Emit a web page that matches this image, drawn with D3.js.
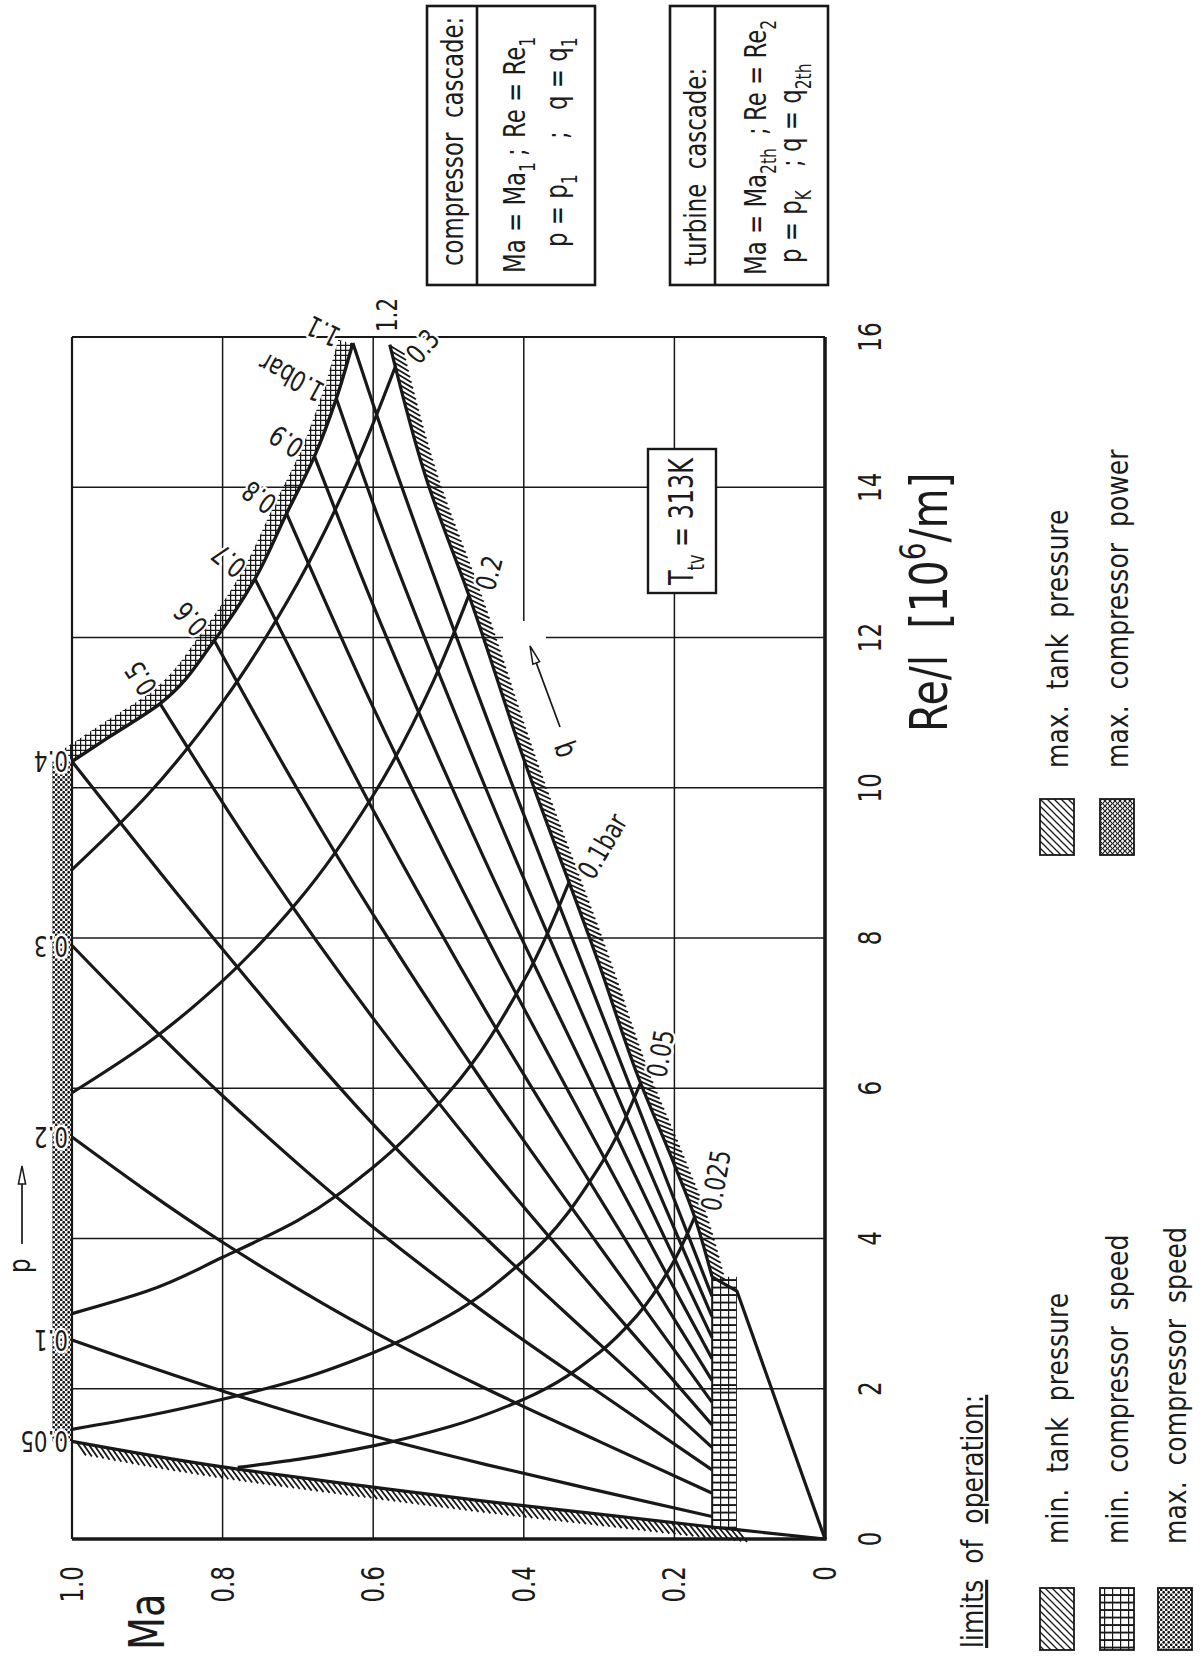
<!DOCTYPE html>
<html>
<head>
<meta charset="utf-8">
<script src="https://cdn.jsdelivr.net/npm/d3@7"></script>
<style>
  body { margin: 0; background: #fff; }
  svg { display: block; }
  text { font-family: 'DejaVu Sans Condensed', 'Liberation Sans Narrow', 'DejaVu Sans', sans-serif; font-stretch: condensed; fill: #1b1b1b; }
</style>
</head>
<body>
<div id="chart"></div>
<script>
// ---- data ----
const reTicks = [0, 2, 4, 6, 8, 10, 12, 14, 16];
const maTicks = [0, 0.2, 0.4, 0.6, 0.8, 1.0];
const maTickLabels = ['0', '0.2', '0.4', '0.6', '0.8', '1.0'];

// constant tank pressure lines, points are [Ma, Re/l]
const pLabels = ['0.05', '0.1', '0.2', '0.3', '0.4', '0.5', '0.6', '0.7', '0.8', '0.9', '1.0bar', '1.1', '1.2'];
const pLines = [
  [[0, 0], [0.117, 0.125], [0.15, 0.16], [0.3, 0.33], [0.45, 0.50], [0.6, 0.69], [0.8, 0.96], [1.0, 1.30]],
  [[0.15, 0.30], [0.3, 0.64], [0.45, 0.99], [0.6, 1.37], [0.8, 1.97], [1.0, 2.65]],
  [[0.15, 0.61], [0.3, 1.30], [0.45, 2.00], [0.6, 2.76], [0.8, 3.95], [1.0, 5.35]],
  [[0.15, 0.92], [0.3, 1.95], [0.45, 3.00], [0.6, 4.15], [0.8, 5.90], [1.0, 7.90]],
  [[0.15, 1.22], [0.3, 2.60], [0.45, 4.00], [0.6, 5.52], [0.8, 7.85], [1.0, 10.35]],
  [[0.15, 1.52], [0.3, 3.25], [0.45, 5.02], [0.6, 6.93], [0.75, 9.04], [0.883, 11.12]],
  [[0.15, 1.82], [0.3, 3.90], [0.45, 6.02], [0.6, 8.31], [0.7, 9.97], [0.811, 11.96]],
  [[0.15, 2.11], [0.3, 4.55], [0.45, 7.02], [0.6, 9.70], [0.757, 12.78]],
  [[0.15, 2.40], [0.3, 5.20], [0.45, 8.02], [0.6, 11.07], [0.715, 13.65]],
  [[0.15, 2.68], [0.3, 5.85], [0.45, 9.00], [0.6, 12.43], [0.678, 14.41]],
  [[0.15, 2.96], [0.3, 6.47], [0.45, 9.98], [0.6, 13.78], [0.649, 15.18]],
  [[0.15, 3.23], [0.3, 7.08], [0.45, 10.95], [0.6, 15.10], [0.627, 15.92]],
  [[0, 0], [0.117, 3.30], [0.15, 3.49], [0.175, 4.34], [0.2, 4.98], [0.25, 6.20], [0.3, 7.65], [0.4, 10.38], [0.47, 12.48], [0.53, 14.13], [0.578, 15.90]]
];

// constant dynamic pressure lines, [Ma, Re/l]
const qLabels = ['0.025', '0.05', '0.1bar', '0.2', '0.3'];
const qLines = [
  [[0.78, 0.952], [0.7, 1.06], [0.6, 1.24], [0.5, 1.49], [0.4, 1.86], [0.3, 2.48], [0.25, 2.97], [0.2, 3.71], [0.173, 4.29]],
  [[1.0, 1.46], [0.9, 1.64], [0.8, 1.86], [0.7, 2.12], [0.6, 2.48], [0.5, 2.97], [0.4, 3.71], [0.3, 4.95], [0.245, 6.07]],
  [[1.0, 3.00], [0.9, 3.30], [0.8, 3.75], [0.7, 4.24], [0.6, 4.95], [0.5, 5.94], [0.4, 7.43], [0.34, 8.74]],
  [[1.0, 5.94], [0.9, 6.60], [0.8, 7.43], [0.7, 8.49], [0.6, 9.90], [0.52, 11.42], [0.473, 12.56]],
  [[1.0, 8.91], [0.9, 9.90], [0.8, 11.14], [0.7, 12.73], [0.62, 14.37], [0.57, 15.62]]
];

// limit of max compressor power, [Ma, Re/l]
const maxPowerEdge = [[1.0, 10.35], [0.95, 10.68], [0.883, 11.12], [0.811, 11.96], [0.757, 12.78], [0.715, 13.65], [0.678, 14.41], [0.649, 15.18], [0.627, 15.92]];
// min compressor speed strip
const minSpeedMa = [0.117, 0.15];
const minSpeedRe = [0.125, 3.49];
// max compressor speed strip along Ma = 1
const maxSpeedRe = [1.30, 10.35];

const legendTitle = ['limits', ' of ', 'operation:'];
const legendLower = ['min.  tank  pressure', 'min.  compressor  speed', 'max.  compressor  speed'];
const legendUpper = ['max.  tank  pressure', 'max.  compressor  power'];
const boxTitles = ['compressor  cascade:', 'turbine  cascade:'];

// ---- layout ----
const W = 1204, H = 1656;
const INK = '#181818';
const svg = d3.select('#chart').append('svg')
  .attr('width', W).attr('height', H).attr('viewBox', `0 0 ${W} ${H}`);
svg.append('rect').attr('width', W).attr('height', H).attr('fill', '#fff');

// the chart is drawn upright in a 1656 x 1204 frame and turned a quarter to the left
const g = svg.append('g').attr('transform', `translate(0,${H}) rotate(-90)`);

const x = d3.scaleLinear().domain([0, 16]).range([117, 1319]);
const y = d3.scaleLinear().domain([0, 1]).range([825, 72]);

const lineSmooth = d3.line().x(d => x(d[1])).y(d => y(d[0])).curve(d3.curveMonotoneX);
const lineStraight = d3.line().x(d => x(d[1])).y(d => y(d[0]));

// narrow lettering like the stencil font of the original
function label(parent, u, v, size, rot, sx) {
  return parent.append('text')
    .attr('transform', `translate(${u},${v})${rot ? ` rotate(${rot})` : ''} scale(${sx || 0.82},1)`)
    .attr('font-size', size);
}

// patterns
const defs = svg.append('defs');
const grid = defs.append('pattern').attr('id', 'pat-grid')
  .attr('width', 7.5).attr('height', 8).attr('patternUnits', 'userSpaceOnUse');
grid.append('line').attr('x1', 0.9).attr('y1', 0).attr('x2', 0.9).attr('y2', 8).attr('stroke', INK).attr('stroke-width', 2);
grid.append('line').attr('x1', 0).attr('y1', 0.6).attr('x2', 7.5).attr('y2', 0.6).attr('stroke', INK).attr('stroke-width', 1.2);

const cross = defs.append('pattern').attr('id', 'pat-cross')
  .attr('width', 5).attr('height', 5).attr('patternUnits', 'userSpaceOnUse');
cross.append('line').attr('x1', 0.6).attr('y1', 0).attr('x2', 0.6).attr('y2', 5).attr('stroke', INK).attr('stroke-width', 1.3);
cross.append('line').attr('x1', 0).attr('y1', 0.6).attr('x2', 5).attr('y2', 0.6).attr('stroke', INK).attr('stroke-width', 1.3);

const dots = defs.append('pattern').attr('id', 'pat-dots')
  .attr('width', 5).attr('height', 5).attr('patternUnits', 'userSpaceOnUse');
dots.append('circle').attr('cx', 1.2).attr('cy', 1.2).attr('r', 1.4).attr('fill', INK);
dots.append('circle').attr('cx', 3.7).attr('cy', 3.7).attr('r', 1.4).attr('fill', INK);

const diag = defs.append('pattern').attr('id', 'pat-diag')
  .attr('width', 7).attr('height', 7).attr('patternUnits', 'userSpaceOnUse');
diag.append('path').attr('d', 'M-1,8L8,-1M-1,1L1,-1M6,8L8,6').attr('stroke', INK).attr('stroke-width', 1.3);

const diagX = defs.append('pattern').attr('id', 'pat-diagx')
  .attr('width', 5).attr('height', 5).attr('patternUnits', 'userSpaceOnUse');
diagX.append('path').attr('d', 'M-1,6L6,-1M-1,1L1,-1M4,6L6,4M-1,-1L6,6M-1,4L1,6M4,-1L6,1').attr('stroke', INK).attr('stroke-width', 1.1);

// grid
const gridG = g.append('g').attr('stroke', INK).attr('stroke-width', 1.5);
reTicks.slice(1, -1).forEach(r => gridG.append('line')
  .attr('x1', x(r)).attr('x2', x(r)).attr('y1', y(0)).attr('y2', y(1)));
maTicks.slice(1, -1).forEach(m => gridG.append('line')
  .attr('x1', x(0)).attr('x2', x(16)).attr('y1', y(m)).attr('y2', y(m)));

// clear patch around the q arrow
g.append('rect').attr('x', 900).attr('y', 503).attr('width', 135).attr('height', 43).attr('fill', '#fff');

// path sampling for hatches and bands
function samples(pts, curve, step) {
  const tmp = g.append('path')
    .attr('d', d3.line().x(d => x(d[1])).y(d => y(d[0])).curve(curve)(pts))
    .attr('fill', 'none');
  const node = tmp.node(), L = node.getTotalLength(), out = [];
  for (let s = 0; s <= L + 0.01; s += step) {
    const a = node.getPointAtLength(Math.min(s, L));
    const b = node.getPointAtLength(Math.min(L, s + 1.5));
    const c = node.getPointAtLength(Math.max(0, s - 1.5));
    const tx = b.x - c.x, ty = b.y - c.y, m = Math.hypot(tx, ty) || 1;
    out.push({ x: a.x, y: a.y, tx: tx / m, ty: ty / m });
  }
  tmp.remove();
  return out;
}

function hatch(sm, side, lean, len) {
  const hg = g.append('g').attr('stroke', INK).attr('stroke-width', 1.8);
  sm.forEach(s => {
    const nx = -s.ty * side, ny = s.tx * side;
    let dx = nx + lean * s.tx, dy = ny + lean * s.ty;
    const m = Math.hypot(dx, dy);
    hg.append('line').attr('x1', s.x).attr('y1', s.y)
      .attr('x2', s.x + dx / m * len).attr('y2', s.y + dy / m * len);
  });
}

function band(sm, side, w, fill) {
  const a = sm.map(s => [s.x, s.y]);
  const b = sm.map(s => [s.x - s.ty * side * w, s.y + s.tx * side * w]).reverse();
  g.append('path').attr('d', 'M' + a.concat(b).map(p => p.join(',')).join('L') + 'Z')
    .attr('fill', fill);
}

// max compressor speed: dotted strip outside Ma = 1
g.append('rect')
  .attr('x', x(maxSpeedRe[0])).attr('width', x(maxSpeedRe[1]) - x(maxSpeedRe[0]))
  .attr('y', 52).attr('height', y(1) - 52)
  .attr('fill', 'url(#pat-dots)');

// min compressor speed: gridded strip
g.append('rect')
  .attr('x', x(minSpeedRe[0])).attr('width', x(minSpeedRe[1]) - x(minSpeedRe[0]))
  .attr('y', y(minSpeedMa[1])).attr('height', y(minSpeedMa[0]) - y(minSpeedMa[1]))
  .attr('fill', 'url(#pat-grid)');
g.append('line')
  .attr('x1', x(minSpeedRe[0])).attr('x2', x(minSpeedRe[1]))
  .attr('y1', y(minSpeedMa[1])).attr('y2', y(minSpeedMa[1]))
  .attr('stroke', INK).attr('stroke-width', 1.8);

// max compressor power: cross-hatched band
const edgeSm = samples(maxPowerEdge, d3.curveMonotoneX, 2);
band(edgeSm, -1, 15, 'url(#pat-cross)');

// min / max tank pressure: single hatch
hatch(samples(pLines[0].slice(1), d3.curveMonotoneX, 6), -1, -1, 16);
hatch(samples(pLines[12].slice(2), d3.curveMonotoneX, 5.8), 1, -1, 17);

// curves
const curveG = g.append('g').attr('fill', 'none').attr('stroke', INK)
  .attr('stroke-width', 3.2).attr('stroke-linejoin', 'round');
pLines.forEach(pts => {
  if (pts[0][0] === 0) {
    curveG.append('path').attr('d', lineStraight(pts.slice(0, 3)));
    curveG.append('path').attr('d', lineSmooth(pts.slice(2)));
  } else {
    curveG.append('path').attr('d', lineSmooth(pts));
  }
});
qLines.forEach(pts => curveG.append('path').attr('d', lineSmooth(pts)));
curveG.append('path').attr('d', lineSmooth(maxPowerEdge)).attr('stroke-width', 3.4);

// frame
const fr = g.append('g').attr('stroke', INK);
fr.append('line').attr('x1', x(0)).attr('x2', x(0)).attr('y1', y(0) + 1.7).attr('y2', y(1)).attr('stroke-width', 3.6);
fr.append('line').attr('x1', x(0)).attr('x2', x(16)).attr('y1', y(0)).attr('y2', y(0)).attr('stroke-width', 3.6);
fr.append('line').attr('x1', x(0)).attr('x2', x(16)).attr('y1', y(1)).attr('y2', y(1)).attr('stroke-width', 2.2);
fr.append('line').attr('x1', x(16)).attr('x2', x(16)).attr('y1', y(0)).attr('y2', y(1)).attr('stroke-width', 2);

// rich text helper (sub / superscripts)
function rich(t, parts, size) {
  let shift = 0;
  parts.forEach(([s, k]) => {
    const want = k === 'sub' ? size * 0.32 : k === 'sup' ? -size * 0.42 : 0;
    const ts = t.append('tspan').attr('dy', want - shift).text(s);
    if (k) ts.attr('font-size', size * 0.68);
    shift = want;
  });
}
function halo(t) {
  return t.attr('stroke', '#fff').attr('stroke-width', 5).attr('paint-order', 'stroke')
    .attr('stroke-linejoin', 'round');
}

// tick labels
maTicks.forEach((m, i) => label(g, 90, y(m) + 11, 32, 0, 0.8)
  .attr('text-anchor', 'end').text(maTickLabels[i]));
reTicks.forEach(r => label(g, x(r), 881, 32, 0, 0.8)
  .attr('text-anchor', 'middle').text(r));

// axis titles
label(g, 6, 164, 50, 0, 0.85).text('Ma');
rich(label(g, 924, 947, 52, 0, 0.88), [['Re/l\u00a0\u00a0[10', null], ['6', 'sup'], ['/m]', null]], 52);

// p labels
const labG = g.append('g');
const edgePx = maxPowerEdge.map(d => [x(d[1]), y(d[0])]);
pLines.forEach((pts, i) => {
  const e = pts[pts.length - 1];
  let t;
  if (e[0] === 1) {
    t = label(labG, x(e[1]) + 10, y(1) - 4, 28, -90, 0.85);
  } else if (i === pLines.length - 1) {
    t = label(labG, x(16) + 5, y(e[0]) - 2, 28, 0, 0.85).attr('dominant-baseline', 'central');
  } else {
    const j = maxPowerEdge.findIndex(d => d[0] === e[0]);
    const a = edgePx[Math.max(0, j - 1)], b = edgePx[Math.min(edgePx.length - 1, j + 1)];
    let tx = b[0] - a[0], ty = b[1] - a[1];
    const m = Math.hypot(tx, ty);
    tx /= m; ty /= m;
    const nx = ty, ny = -tx;
    const ang = Math.atan2(ny, nx) * 180 / Math.PI + 10;
    t = label(labG, x(e[1]) + nx * 15, y(e[0]) + ny * 15, 28, ang, 0.85)
      .attr('dominant-baseline', 'central');
  }
  halo(t.text(pLabels[i]));
});

// q labels
const qAngles = [10, 10, 30, 15, 40];
qLines.forEach((pts, i) => {
  const e = pts[pts.length - 1];
  const t = label(labG, x(e[1]) + 6, y(e[0]) + 16, 28, qAngles[i], 0.85)
    .attr('dominant-baseline', 'central').text(qLabels[i]);
  halo(t);
});

// direction arrows
function arrow(x1, y1, x2, y2) {
  const a = Math.atan2(y2 - y1, x2 - x1), L = 18, w = 3.6;
  const bx = x2 - Math.cos(a) * L, by = y2 - Math.sin(a) * L;
  g.append('line').attr('x1', x1).attr('y1', y1).attr('x2', bx).attr('y2', by)
    .attr('stroke', INK).attr('stroke-width', 1.7);
  g.append('path').attr('d', `M${x2},${y2}L${bx - Math.sin(a) * w},${by + Math.cos(a) * w}L${bx + Math.sin(a) * w},${by - Math.cos(a) * w}Z`)
    .attr('fill', '#fff').attr('stroke', INK).attr('stroke-width', 1.5);
}
label(g, 383, 30, 30, 0, 0.85).text('p');
arrow(412, 22, 490, 22);
label(g, 902, 574, 30, -20, 0.85).text('q');
arrow(929, 560, 1010, 530);

// T box
g.append('rect').attr('x', 1063).attr('y', 648).attr('width', 144).attr('height', 68)
  .attr('fill', '#fff').attr('stroke', INK).attr('stroke-width', 2.4);
rich(label(g, 1071, 693, 34, 0, 0.78), [['T', null], ['tv', 'sub'], ['\u00a0=\u00a0313K', null]], 34);

// cascade boxes
const boxV = [[427, 595, 477, 463], [670, 828, 715, 706]];
boxV.forEach(([v0, v1, vd, vt], i) => {
  g.append('rect').attr('x', 1371).attr('y', v0).attr('width', 279).attr('height', v1 - v0)
    .attr('fill', '#fff').attr('stroke', INK).attr('stroke-width', 2.6);
  g.append('line').attr('x1', 1371).attr('x2', 1650).attr('y1', vd).attr('y2', vd)
    .attr('stroke', INK).attr('stroke-width', 2.6);
  label(g, 1390, vt, 31).text(boxTitles[i].replace(/ /g, '\u00a0'));
});
function row(u, v, parts) {
  rich(label(g, u, v, 31), parts, 31);
}
row(1383, 525, [['Ma\u00a0=\u00a0Ma', null], ['1', 'sub']]);
label(g, 1500, 525, 31).text(';');
row(1518, 525, [['Re\u00a0=\u00a0Re', null], ['1', 'sub']]);
row(1409, 567, [['p\u00a0=\u00a0p', null], ['1', 'sub']]);
label(g, 1517, 567, 31).text(';');
row(1546, 567, [['q\u00a0=\u00a0q', null], ['1', 'sub']]);
row(1381, 766, [['Ma\u00a0=\u00a0Ma', null], ['2th', 'sub']]);
label(g, 1521, 766, 31).text(';');
row(1535, 766, [['Re\u00a0=\u00a0Re', null], ['2', 'sub']]);
row(1393, 801, [['p\u00a0=\u00a0p', null], ['K', 'sub']]);
label(g, 1489, 801, 31).text(';');
row(1504, 801, [['q\u00a0=\u00a0q', null], ['2th', 'sub']]);

// legend
const lt = label(g, 8, 983, 31, 0, 0.9);
legendTitle.forEach((s, i) => {
  const ts = lt.append('tspan').text(s.replace(/ /g, '\u00a0\u00a0'));
  if (i !== 1) ts.attr('text-decoration', 'underline');
});
const lowerFills = ['url(#pat-diag)', 'url(#pat-grid)', 'url(#pat-dots)'];
const lowerV = [1040, 1100, 1158];
legendLower.forEach((s, i) => {
  g.append('rect').attr('x', 6).attr('y', lowerV[i]).attr('width', 62).attr('height', 34)
    .attr('fill', lowerFills[i]).attr('stroke', INK).attr('stroke-width', 1.8);
  label(g, 112, lowerV[i] + 28, 31, 0, 0.9).text(s.replace(/ /g, '\u00a0'));
});
const upperFills = ['url(#pat-diag)', 'url(#pat-diagx)'];
legendUpper.forEach((s, i) => {
  g.append('rect').attr('x', 801).attr('y', lowerV[i]).attr('width', 56).attr('height', 34)
    .attr('fill', upperFills[i]).attr('stroke', INK).attr('stroke-width', 1.8);
  label(g, 888, lowerV[i] + 28, 31, 0, 0.9).text(s.replace(/ /g, '\u00a0'));
});
</script>
</body>
</html>
